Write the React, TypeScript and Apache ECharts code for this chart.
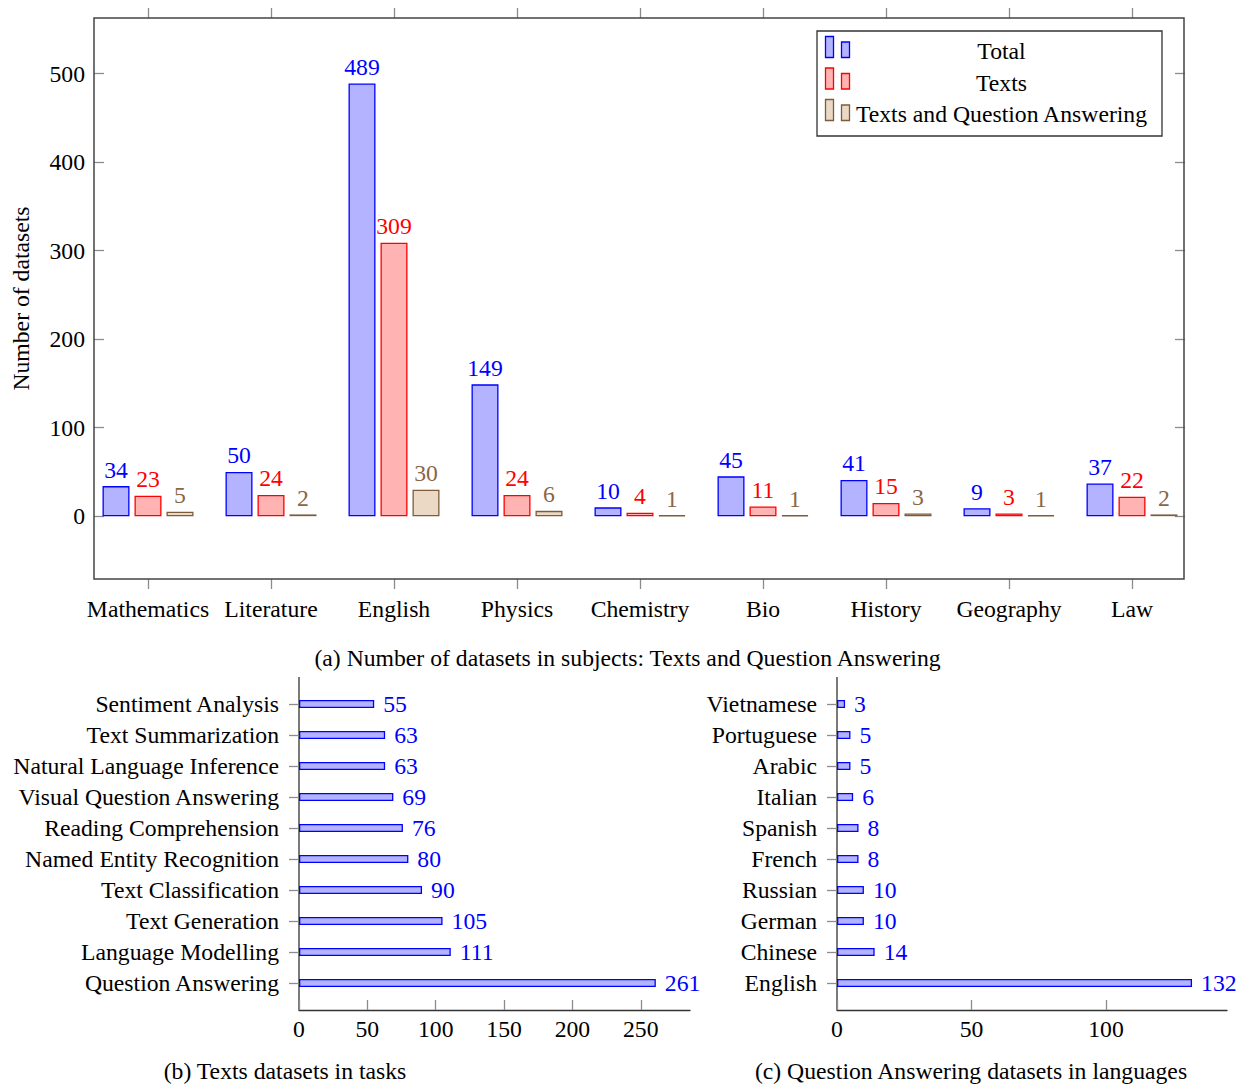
import React, { useEffect, useRef } from "react";
import * as echarts from "echarts";

const subjects = ["Mathematics", "Literature", "English", "Physics", "Chemistry", "Bio", "History", "Geography", "Law"];
const totalValues = [34, 50, 489, 149, 10, 45, 41, 9, 37];
const textsValues = [23, 24, 309, 24, 4, 11, 15, 3, 22];
const tqaValues = [5, 2, 30, 6, 1, 1, 3, 1, 2];
const subjectTicks = [0, 100, 200, 300, 400, 500];

const tasks = [
  "Sentiment Analysis",
  "Text Summarization",
  "Natural Language Inference",
  "Visual Question Answering",
  "Reading Comprehension",
  "Named Entity Recognition",
  "Text Classification",
  "Text Generation",
  "Language Modelling",
  "Question Answering",
];
const taskValues = [55, 63, 63, 69, 76, 80, 90, 105, 111, 261];

const languages = ["Vietnamese", "Portuguese", "Arabic", "Italian", "Spanish", "French", "Russian", "German", "Chinese", "English"];
const languageValues = [3, 5, 5, 6, 8, 8, 10, 10, 14, 132];

const seriesNames = ["Total", "Texts", "Texts and Question Answering"];
const captions = [
  "(a) Number of datasets in subjects: Texts and Question Answering",
  "(b) Texts datasets in tasks",
  "(c) Question Answering datasets in languages",
];

const FONT = "Liberation Serif";
const FS = 23.7;
const BLUE = { fill: "#b3b3ff", stroke: "#0000ff", text: "#0000ff" };
const RED = { fill: "#ffb3b3", stroke: "#ff0000", text: "#ff0000" };
const BROWN = { fill: "#ebd9c6", stroke: "#7d5c3b", text: "#8a6644" };
const STYLES = [BLUE, RED, BROWN];
const TICK = "#8c8c8c";
const AXIS = "#333333";

export default function App() {
  const ref = useRef<HTMLDivElement>(null);
  useEffect(() => {
    if (!ref.current) return;
    const chart = echarts.init(ref.current, null, { renderer: "svg" });

    const topSeries = [totalValues, textsValues, tqaValues].map((vals, i) => ({
      type: "bar",
      name: seriesNames[i],
      xAxisIndex: 0,
      yAxisIndex: 0,
      data: vals,
      barWidth: 27,
      barGap: "18.5%",
      itemStyle: { color: STYLES[i].fill, borderColor: STYLES[i].stroke, borderWidth: 1.3 },
      label: {
        show: true,
        position: "top",
        distance: 4.5,
        color: STYLES[i].text,
        fontFamily: FONT,
        fontSize: FS,
      },
    }));

    const hBar = (data: number[], xi: number, yi: number) => ({
      type: "bar",
      xAxisIndex: xi,
      yAxisIndex: yi,
      data,
      barWidth: 8,
      itemStyle: { color: BLUE.fill, borderColor: BLUE.stroke, borderWidth: 1.3 },
      label: {
        show: true,
        position: "right",
        distance: 9,
        color: BLUE.text,
        fontFamily: FONT,
        fontSize: FS,
      },
    });

    const legendRows = [51, 82.5, 114];
    const legendGraphics: any[] = [
      {
        type: "rect",
        shape: { x: 817, y: 31, width: 345, height: 105 },
        style: { fill: "#fff", stroke: AXIS, lineWidth: 1.3 },
        z: 10,
      },
    ];
    legendRows.forEach((cy, i) => {
      const bottom = cy + 6.5;
      legendGraphics.push(
        {
          type: "rect",
          shape: { x: 825.5, y: bottom - 21, width: 8, height: 21 },
          style: { fill: STYLES[i].fill, stroke: STYLES[i].stroke, lineWidth: 1.3 },
          z: 11,
        },
        {
          type: "rect",
          shape: { x: 841.5, y: bottom - 15.5, width: 8, height: 15.5 },
          style: { fill: STYLES[i].fill, stroke: STYLES[i].stroke, lineWidth: 1.3 },
          z: 11,
        },
        {
          type: "text",
          x: 1001.5,
          y: cy,
          style: {
            text: seriesNames[i],
            fill: "#000",
            fontFamily: FONT,
            fontSize: FS,
            align: "center",
            verticalAlign: "middle",
          },
          z: 11,
        }
      );
    });

    const capText = (text: string, x: number, y: number) => ({
      type: "text",
      x,
      y,
      style: { text, fill: "#000", fontFamily: FONT, fontSize: FS, align: "center", verticalAlign: "middle" },
    });

    const tickStyle = { color: TICK, width: 1.3 };

    chart.setOption({
      animation: false,
      textStyle: { fontFamily: FONT },
      grid: [
        { left: 86.5, top: 18, width: 1107, height: 561, outerBoundsMode: "none", containLabel: false },
        { left: 299, top: 688.5, width: 391, height: 310, outerBoundsMode: "none", containLabel: false },
        { left: 837, top: 688.5, width: 390, height: 310, outerBoundsMode: "none", containLabel: false },
      ],
      xAxis: [
        {
          type: "category",
          gridIndex: 0,
          data: subjects,
          position: "bottom",
          axisLine: { show: false, onZero: false },
          axisTick: { show: true, alignWithLabel: true, interval: 0, length: 10, inside: false, lineStyle: tickStyle },
          axisLabel: { interval: 0, margin: 18, color: "#000", fontFamily: FONT, fontSize: FS },
        },
        {
          type: "category",
          gridIndex: 0,
          data: subjects,
          position: "top",
          axisLine: { show: false, onZero: false },
          axisTick: { show: true, alignWithLabel: true, interval: 0, length: 10, inside: false, lineStyle: tickStyle },
          axisLabel: { show: false },
        },
        {
          type: "value",
          gridIndex: 1,
          min: 0,
          max: 286,
          interval: 50,
          position: "bottom",
          offset: 11.5,
          splitLine: { show: false },
          axisLine: { show: true, onZero: false, lineStyle: { color: AXIS, width: 1.3 } },
          axisTick: { show: true, inside: true, length: 10, lineStyle: tickStyle },
          axisLabel: { margin: 7, color: "#000", fontFamily: FONT, fontSize: FS, showMaxLabel: false },
        },
        {
          type: "value",
          gridIndex: 2,
          min: 0,
          max: 145,
          interval: 50,
          position: "bottom",
          offset: 11.5,
          splitLine: { show: false },
          axisLine: { show: true, onZero: false, lineStyle: { color: AXIS, width: 1.3 } },
          axisTick: { show: true, inside: true, length: 10, lineStyle: tickStyle },
          axisLabel: { margin: 7, color: "#000", fontFamily: FONT, fontSize: FS, showMaxLabel: false },
        },
      ],
      yAxis: [
        {
          type: "value",
          gridIndex: 0,
          min: -71,
          max: 563,
          position: "left",
          offset: -7.5,
          splitLine: { show: false },
          axisLine: { show: false, onZero: false },
          axisTick: { show: true, inside: true, length: 10, customValues: subjectTicks, lineStyle: tickStyle },
          axisLabel: { margin: 9, customValues: subjectTicks, color: "#000", fontFamily: FONT, fontSize: FS },
          name: "Number of datasets",
          nameLocation: "middle",
          nameGap: 61,
          nameTextStyle: { color: "#000", fontFamily: FONT, fontSize: FS },
        },
        {
          type: "value",
          gridIndex: 0,
          min: -71,
          max: 563,
          position: "right",
          offset: -8.5,
          splitLine: { show: false },
          axisLine: { show: false, onZero: false },
          axisTick: { show: true, inside: true, length: 10, customValues: subjectTicks, lineStyle: tickStyle },
          axisLabel: { show: false },
        },
        {
          type: "category",
          gridIndex: 1,
          data: tasks,
          inverse: true,
          axisLine: { show: false, onZero: false },
          axisTick: { show: true, alignWithLabel: true, interval: 0, length: 10, lineStyle: tickStyle },
          axisLabel: { interval: 0, margin: 20, color: "#000", fontFamily: FONT, fontSize: FS },
        },
        {
          type: "category",
          gridIndex: 2,
          data: languages,
          inverse: true,
          axisLine: { show: false, onZero: false },
          axisTick: { show: true, alignWithLabel: true, interval: 0, length: 10, lineStyle: tickStyle },
          axisLabel: { interval: 0, margin: 20, color: "#000", fontFamily: FONT, fontSize: FS },
        },
      ],
      series: [...topSeries, hBar(taskValues, 2, 2), hBar(languageValues, 3, 3)],
      graphic: [
        {
          type: "rect",
          shape: { x: 94, y: 18, width: 1090, height: 561 },
          style: { fill: "none", stroke: "#444", lineWidth: 1.5 },
          z: 5,
        },
        { type: "line", shape: { x1: 299, y1: 677, x2: 299, y2: 1010 }, style: { stroke: AXIS, lineWidth: 1.3 } },
        { type: "line", shape: { x1: 837, y1: 677, x2: 837, y2: 1010 }, style: { stroke: AXIS, lineWidth: 1.3 } },
        ...legendGraphics,
        capText(captions[0], 627.5, 658),
        capText(captions[1], 285, 1071),
        capText(captions[2], 971, 1071),
      ],
    });
    return () => chart.dispose();
  }, []);
  return <div ref={ref} style={{ position: "absolute", left: 0, top: 0, width: 1247, height: 1085 }} />;
}
